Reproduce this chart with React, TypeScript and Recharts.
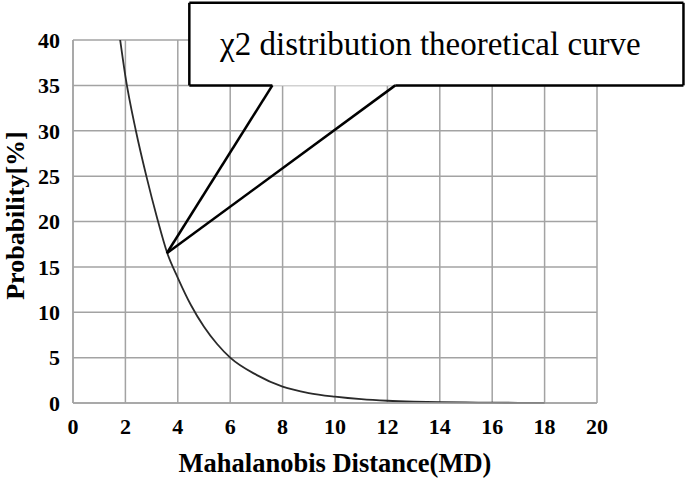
import React from "react";
import {
  LineChart,
  Line,
  XAxis,
  YAxis,
  CartesianGrid,
  ReferenceArea,
  ReferenceLine,
  Label,
} from "recharts";

const mdValues = [1.8, 2, 2.4, 2.8, 3.2, 3.6, 4, 4.5, 5, 5.5, 6, 7, 8, 9, 10, 11, 12, 13, 14, 15, 16, 17, 18];
const probValues = [40, 36, 30, 25, 20.5, 16.5, 13.8, 10.8, 8.4, 6.5, 5, 3.1, 1.8, 1.1, 0.7, 0.42, 0.25, 0.15, 0.09, 0.06, 0.04, 0.02, 0.01];

const xTicks = [0, 2, 4, 6, 8, 10, 12, 14, 16, 18, 20];
const yTicks = [0, 5, 10, 15, 20, 25, 30, 35, 40];

const calloutText = "\u03c72 distribution theoretical curve";
const calloutBox = { x1: 4.44, x2: 23.3, y1: 35, y2: 44.1 };
const calloutTip = { x: 3.58, y: 16.5 };
const calloutBase = [7.61, 12.3];

const data = mdValues.map((md, i) => ({ md, p: probValues[i] }));

const serif = "Liberation Serif";
const gridColor = "#a3a3a3";

const outline = [
  [{ x: calloutBox.x1, y: calloutBox.y1 }, { x: calloutBox.x1, y: calloutBox.y2 }],
  [{ x: calloutBox.x1, y: calloutBox.y2 }, { x: calloutBox.x2, y: calloutBox.y2 }],
  [{ x: calloutBox.x2, y: calloutBox.y2 }, { x: calloutBox.x2, y: calloutBox.y1 }],
  [{ x: calloutBox.x2, y: calloutBox.y1 }, { x: calloutBase[1], y: calloutBox.y1 }],
  [{ x: calloutBase[1], y: calloutBox.y1 }, calloutTip],
  [calloutTip, { x: calloutBase[0], y: calloutBox.y1 }],
  [{ x: calloutBase[0], y: calloutBox.y1 }, { x: calloutBox.x1, y: calloutBox.y1 }],
];

const YTitle = (props: any) => {
  const vb = props.viewBox;
  const cy = vb.y + vb.height / 2 - 6;
  return (
    <text
      x={24}
      y={cy}
      transform={`rotate(-90, 24, ${cy})`}
      textAnchor="middle"
      fontFamily={serif}
      fontWeight="bold"
      fontSize={26}
      fill="#000"
    >
      Probability[%]
    </text>
  );
};

const CalloutLabel = (props: any) => {
  const vb = props.viewBox;
  return (
    <text
      x={vb.x + vb.width / 2 - 6}
      y={vb.y + vb.height / 2 + 11}
      textAnchor="middle"
      fontFamily={serif}
      fontSize={33}
      fill="#000"
    >
      {calloutText}
    </text>
  );
};

export default function App() {
  return (
    <div style={{ position: "absolute", left: 0, top: 0, background: "#fff" }}>
      <LineChart width={685} height={480} data={data} margin={{ top: 40, right: 88, bottom: 0, left: 0 }}>
        <CartesianGrid stroke={gridColor} strokeWidth={1.5} />
        <XAxis
          type="number"
          dataKey="md"
          domain={[0, 20]}
          ticks={xTicks}
          height={77}
          axisLine={{ stroke: gridColor, strokeWidth: 1.5 }}
          tickLine={false}
          tickSize={0}
          tickMargin={15}
          tick={{ fontFamily: serif, fontWeight: "bold", fontSize: 22, fill: "#000" }}
        >
          <Label
            value="Mahalanobis Distance(MD)"
            position="insideBottom"
            offset={8}
            style={{ fontFamily: serif, fontWeight: "bold", fontSize: 26.5, fill: "#000" }}
          />
        </XAxis>
        <YAxis
          type="number"
          domain={[0, 40]}
          ticks={yTicks}
          width={73}
          axisLine={{ stroke: gridColor, strokeWidth: 1.5 }}
          tickLine={false}
          tickSize={0}
          tickMargin={13}
          tick={{ fontFamily: serif, fontWeight: "bold", fontSize: 22, fill: "#000" }}
        >
          <Label content={<YTitle />} />
        </YAxis>
        <Line
          type="monotone"
          dataKey="p"
          stroke="#2a2a2a"
          strokeWidth={1.8}
          dot={false}
          isAnimationActive={false}
        />
        <ReferenceArea
          x1={calloutBox.x1}
          x2={calloutBox.x2}
          y1={calloutBox.y1}
          y2={calloutBox.y2}
          ifOverflow="visible"
          fill="#fff"
          fillOpacity={1}
          stroke="none"
          label={<CalloutLabel />}
        />
        {outline.map((seg, i) => (
          <ReferenceLine
            key={`seg-${i}`}
            segment={seg}
            ifOverflow="visible"
            stroke="#000"
            strokeWidth={2.5}
          />
        ))}
      </LineChart>
    </div>
  );
}
